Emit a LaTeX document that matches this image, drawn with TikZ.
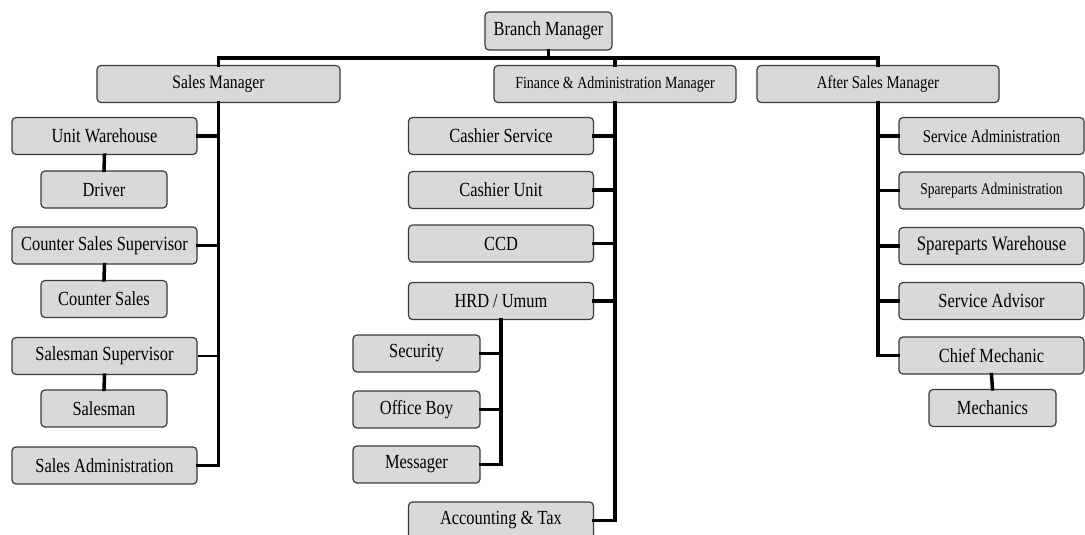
\documentclass[tikz,border=0pt]{standalone}
\usepackage{fontspec}
\setmainfont[FakeStretch=0.82]{Liberation Serif}
\definecolor{boxfill}{HTML}{D9D9D9}
\definecolor{boxline}{HTML}{3A3A3A}
\begin{document}
\begin{tikzpicture}[x=1pt,y=-1pt,
  orgbox/.style={draw=boxline,line width=1.2pt,fill=boxfill,rounded corners=4pt,
    inner sep=0pt,minimum height=37pt,font=\fontsize{20}{22}\selectfont},
  wide/.style={orgbox,minimum width=185pt},
  narrow/.style={orgbox,minimum width=126pt},
  conn/.style={line width=3.5pt,line cap=rect},
  thin/.style={line width=2pt}]
\useasboundingbox (0,0) rectangle (1085,535);
% top
\node[orgbox,minimum width=127pt,minimum height=38pt] (bm) at (548.5,31) {Branch Manager};
\node[orgbox,minimum width=243pt,font=\fontsize{19}{22}\selectfont] (sm) at (218.5,84) {Sales Manager};
\node[orgbox,minimum width=242pt,font=\fontsize{17}{20}\selectfont] (fam) at (615,84) {Finance \& Administration Manager};
\node[orgbox,minimum width=242pt,font=\fontsize{18}{20}\selectfont] (asm) at (878,84) {After Sales Manager};
\coordinate (bus) at (0,58);
% left column
\node[wide] (uw) at (104.5,136) {Unit Warehouse};
\node[narrow] (drv) at (104,189.5) {Driver};
\node[wide] (css) at (104.5,245.5) {Counter Sales Supervisor};
\node[narrow] (cs) at (104,299) {Counter Sales};
\node[wide] (ss) at (104.5,356) {Salesman Supervisor};
\node[narrow] (slm) at (104,408.5) {Salesman};
\node[wide] (sadm) at (104.5,465.5) {Sales Administration};
% middle column
\node[wide] (csv) at (501,136) {Cashier Service};
\node[wide] (cu) at (501,190) {Cashier Unit};
\node[wide] (ccd) at (501,243.5) {CCD};
\node[wide] (hrd) at (501,301) {HRD / Umum};
\node[narrow,minimum width=127pt] (sec) at (416.5,353.5) {Security};
\node[narrow,minimum width=127pt] (ob) at (416.5,409.5) {Office Boy};
\node[narrow,minimum width=127pt] (msg) at (416.5,464.5) {Messager};
\node[wide] (acc) at (501,520.5) {Accounting \& Tax};
% right column
\node[wide,font=\fontsize{18}{20}\selectfont] (sa) at (991.5,136) {Service Administration};
\node[wide,font=\fontsize{16.5}{20}\selectfont] (spa) at (991.5,190.5) {Spareparts Administration};
\node[wide,font=\fontsize{20.5}{22}\selectfont] (spw) at (991.5,246) {Spareparts Warehouse};
\node[wide] (sadv) at (991.5,301) {Service Advisor};
\node[wide] (cm) at (991.5,355.5) {Chief Mechanic};
\node[narrow,minimum width=127pt] (mech) at (992.5,408) {Mechanics};
% connectors: top bus
\draw[conn] (sm.north) -- (sm.north |- bus) -- (asm.north |- bus) -- (asm.north);
\draw[conn] (bm.south) -- (bm.south |- bus);
\draw[conn] (fam.north) -- (fam.north |- bus);
% sales branch
\draw[conn] (sm.south) |- (sadm.east);
\draw[conn] (uw.east) -- (uw.east -| sm.south);
\draw[conn] (css.east) -- (css.east -| sm.south);
\draw[thin] (ss.east) -- (ss.east -| sm.south);
\draw[conn] (uw.south) -- (drv.north);
\draw[conn] (css.south) -- (cs.north);
\draw[conn] (ss.south) -- (slm.north);
% finance branch
\draw[conn] (fam.south) |- (acc.east);
\draw[conn] (csv.east) -- (csv.east -| fam.south);
\draw[conn] (cu.east) -- (cu.east -| fam.south);
\draw[conn] (ccd.east) -- (ccd.east -| fam.south);
\draw[conn] (hrd.east) -- (hrd.east -| fam.south);
\draw[conn] (hrd.south) |- (msg.east);
\draw[conn] (sec.east) -- (sec.east -| hrd.south);
\draw[conn] (ob.east) -- (ob.east -| hrd.south);
% after sales branch
\draw[conn] (asm.south) |- (cm.west);
\draw[conn] (sa.west) -- (sa.west -| asm.south);
\draw[conn] (spa.west) -- (spa.west -| asm.south);
\draw[conn] (spw.west) -- (spw.west -| asm.south);
\draw[conn] (sadv.west) -- (sadv.west -| asm.south);
\draw[conn] (cm.south) -- (mech.north);
\end{tikzpicture}
\end{document}
